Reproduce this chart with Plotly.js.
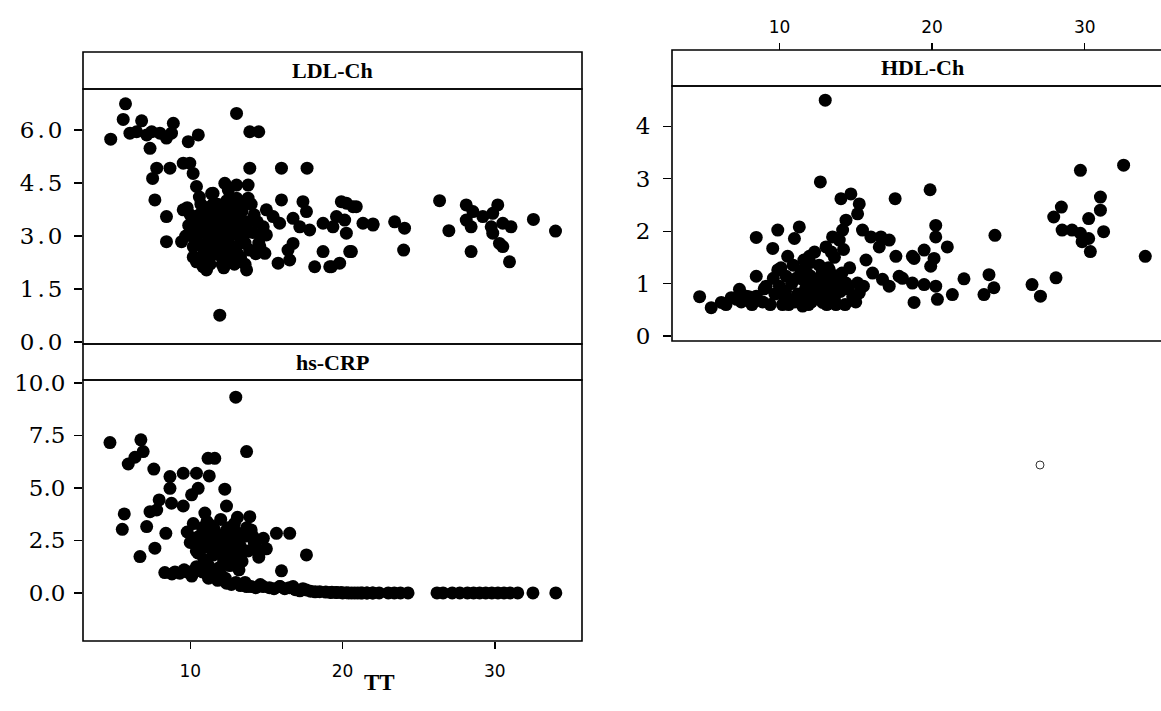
<!DOCTYPE html>
<html>
<head>
<meta charset="utf-8">
<script src="https://cdn.plot.ly/plotly-3.0.1.min.js"></script>
<style>
  html, body { margin: 0; padding: 0; overflow: hidden; background: #fff; }
  #chart { width: 1180px; height: 711px; }
  #chart g.ytick text { letter-spacing: 3px !important; }
  #chart g.xtick text { letter-spacing: 1px !important; }
</style>
</head>
<body>
<div id="chart"></div>
<script>
// ---------------- data ----------------
const panelNames = ["LDL-Ch", "hs-CRP", "HDL-Ch"];
const xTitle = "TT";
const xTickVals = [10, 20, 30];
const ldlTickVals = [0, 1.5, 3, 4.5, 6];
const ldlTickText = ["0.0", "1.5", "3.0", "4.5", "6.0"];
const crpTickVals = [0, 2.5, 5, 7.5, 10];
const crpTickText = ["0.0", "2.5", "5.0", "7.5", "10.0"];
const hdlTickVals = [0, 1, 2, 3, 4];
const hdlTickText = ["0", "1", "2", "3", "4"];

const ldlX = [5.75,5.60,4.78,6.81,6.04,6.48,7.14,7.47,8.01,8.44,8.89,8.77,7.36,9.87,10.53,13.04,13.91,14.50,
  7.80,7.53,8.67,9.54,9.97,10.19,10.41,13.91,15.99,17.67,7.68,8.44,8.44,9.54,9.43,12.27,13.04,13.80,11.50,13.04,
  13.80,15.99,17.40,17.63,19.92,20.25,20.90,19.60,20.14,21.34,22.00,16.75,17.19,17.84,18.72,19.37,20.25,15.00,
  15.44,15.87,14.79,15.00,16.75,16.42,16.53,15.77,14.90,14.57,18.72,18.17,19.16,19.81,20.58,10.41,11.07,10.84,
  13.70,13.04,11.94,11.94,20.69,22.00,23.42,24.07,24.01,20.47,19.27,26.37,26.98,28.12,28.56,28.12,28.44,29.21,
  29.86,30.19,29.76,29.86,30.52,31.06,28.44,30.30,30.52,30.96,32.53,33.98,
  10.1,10.3,10.5,10.6,10.8,10.9,11.0,11.1,11.2,11.3,11.4,11.5,11.6,11.7,11.8,11.9,12.0,12.0,12.1,12.2,12.3,12.4,
  12.5,12.5,12.6,12.7,12.8,12.9,13.0,13.1,13.2,13.3,13.4,13.5,13.6,13.8,13.9,14.0,14.1,14.3,14.4,14.6,10.2,10.7,
  11.3,12.2,12.9,13.6,11.6,12.6,13.3,10.4,9.9,9.7,12.8,11.0,
  10.0,10.2,10.5,10.7,10.9,11.1,11.2,11.4,11.5,11.7,11.8,12.0,12.1,12.3,12.4,12.6,12.7,12.9,13.1,13.2,13.4,13.5,
  13.7,14.2,14.5,11.4,12.5,10.6,9.8,12.1];
const ldlY = [6.74,6.30,5.74,6.26,5.91,5.95,5.86,5.95,5.91,5.77,6.19,5.91,5.48,5.67,5.86,6.47,5.95,5.95,
  4.92,4.63,4.92,5.06,5.06,4.77,4.40,4.92,4.92,4.92,4.02,3.55,2.84,3.74,2.84,4.49,4.44,4.44,4.21,4.07,
  4.07,4.02,3.97,3.69,3.97,3.93,3.83,3.55,3.45,3.36,3.34,3.50,3.26,3.17,3.36,3.26,3.08,3.74,
  3.55,3.36,3.26,3.03,2.79,2.60,2.32,2.23,2.51,2.70,2.56,2.13,2.13,2.23,2.56,2.27,2.04,2.13,
  2.04,2.27,2.46,0.76,3.83,3.31,3.40,3.22,2.60,2.56,2.13,4.00,3.15,3.88,3.69,3.45,3.26,3.55,
  3.64,3.88,3.26,3.08,3.36,3.26,2.56,2.79,2.70,2.27,3.47,3.14,
  3.0,3.3,2.8,3.6,3.1,2.6,3.4,3.8,2.9,2.4,3.2,3.6,2.7,3.0,3.9,3.4,2.5,3.1,3.7,2.8,3.3,4.0,
  2.6,3.5,3.0,2.3,3.8,3.2,2.7,3.5,3.0,2.4,3.7,3.2,2.8,3.4,2.6,3.9,3.1,2.5,3.4,3.0,2.4,3.9,
  2.2,2.1,2.2,2.2,3.5,3.6,3.3,3.5,3.3,3.0,2.5,2.5,
  3.6,2.7,3.1,2.4,3.7,2.3,3.5,2.8,3.9,2.5,3.3,3.6,2.4,2.9,3.6,2.7,3.3,3.9,2.5,3.6,2.9,3.9,
  3.1,3.6,2.8,4.2,4.3,4.1,3.8,2.2];

const crpX = [12.99,4.73,6.76,6.91,6.37,5.93,7.61,13.70,11.17,11.61,8.67,9.54,10.41,11.25,8.67,10.09,10.52,12.27,
  7.96,8.77,9.54,7.36,7.80,12.38,5.67,5.54,7.14,8.40,10.96,6.70,7.68,13.91,15.66,16.53,17.63,15.99,
  9.8,10.0,10.2,10.4,10.6,10.8,11.0,11.1,11.3,11.5,11.6,11.8,12.0,12.1,12.2,12.4,12.5,12.7,12.8,13.0,13.1,13.3,
  13.4,13.6,13.8,14.0,14.2,14.5,14.8,15.0,12.6,11.9,13.2,10.9,
  8.33,9.32,10.41,11.50,12.38,13.70,14.79,15.87,16.75,17.63,18.50,20.25,21.96,
  8.8,9.0,9.8,10.1,10.8,11.2,11.8,12.0,12.7,13.0,13.3,14.0,14.3,15.2,15.5,16.2,16.9,17.2,17.9,18.2,18.9,19.3,
  19.6,19.9,20.6,21.0,21.3,21.6,
  19.2,19.6,20.0,20.4,20.8,21.2,21.6,22.0,22.4,23.0,23.4,23.8,24.3,26.2,26.6,27.2,27.7,28.2,28.6,29.0,29.4,
  29.8,30.2,30.6,31.0,31.5,32.5,34.0,
  10.3,10.7,11.0,11.4,11.7,12.0,12.3,12.4,12.7,13.0,13.2,13.5,13.7,14.1,14.4,11.2,12.2,12.9,11.4,10.5,
  9.6,10.3,11.0,11.6,12.3,13.6,14.6,15.9,16.5,17.4];
const crpY = [9.32,7.16,7.29,6.73,6.46,6.14,5.90,6.73,6.41,6.41,5.54,5.70,5.70,5.57,4.98,4.67,4.98,4.94,
  4.43,4.27,4.14,3.87,3.95,4.14,3.76,3.03,3.16,2.84,3.80,1.73,2.13,3.63,2.84,2.84,1.81,1.05,
  2.9,2.4,3.3,2.0,2.7,3.1,2.2,3.4,2.6,1.8,3.0,2.3,3.5,2.7,1.6,2.1,3.1,2.5,1.9,2.9,3.6,2.2,
  1.5,2.7,2.0,3.0,2.4,1.7,2.6,2.1,1.3,1.2,1.1,1.6,
  0.97,0.94,1.25,0.94,0.46,0.30,0.30,0.30,0.30,0.14,0.06,0.01,0.00,
  0.9,1.0,1.0,0.8,1.0,0.7,0.6,0.9,0.4,0.5,0.35,0.3,0.25,0.25,0.2,0.2,0.15,0.1,0.08,0.05,0.04,0.03,
  0.02,0.02,0,0,0,0,
  0.02,0.02,0,0,0,0,0,0,0,0,0,0,0,0,0,0,0,0,0,0,0,
  0,0,0,0,0,0,0,
  2.6,2.3,2.9,2.1,2.7,2.0,2.5,3.0,2.2,1.6,2.5,2.0,3.1,2.7,2.1,1.3,1.5,3.3,3.2,1.9,
  1.1,1.1,1.0,0.9,0.7,0.5,0.4,0.3,0.25,0.2];

const hdlX = [13.0,12.68,14.03,14.68,15.23,15.12,14.36,14.14,13.48,13.05,13.92,15.44,15.99,16.65,16.54,17.58,
  8.48,9.89,11.3,10.98,9.56,10.54,11.96,4.77,5.53,6.19,6.84,7.38,7.82,8.48,8.48,9.13,9.89,10.0,10.65,10.44,
  11.52,12.18,12.83,13.48,12.4,13.27,14.36,15.12,15.67,16.1,16.75,17.19,17.84,17.63,17.19,18.71,18.82,15.23,11.52,
  19.87,20.24,20.24,21.0,19.48,18.82,20.13,19.91,18.06,18.71,19.48,20.24,20.35,21.33,22.09,24.12,23.73,24.05,
  23.4,26.55,27.1,28.12,29.72,32.55,28.47,27.97,28.52,29.17,29.72,29.83,30.26,30.37,30.26,31.03,31.03,31.24,33.97,
  9.4,9.7,10.2,10.4,10.8,11.0,11.2,11.4,11.7,11.9,12.0,12.2,12.5,12.6,12.9,13.1,13.3,13.6,13.8,14.0,14.3,14.6,
  14.8,11.6,12.3,13.6,8.9,8.2,7.5,10.9,12.8,13.9,
  9.6,10.1,10.6,11.1,11.5,11.8,12.1,12.4,12.7,13.0,13.2,13.5,13.7,14.1,14.5,15.0,15.5,12.0,13.4,14.2,10.3,9.0,
  8.0,7.2,6.5];
const hdlY = [4.50,2.94,2.62,2.71,2.52,2.33,2.21,2.02,1.89,1.70,1.83,2.02,1.89,1.89,1.70,2.62,
  1.88,2.02,2.08,1.86,1.67,1.52,1.52,0.75,0.54,0.64,0.73,0.89,0.76,1.14,0.76,0.95,1.26,0.95,0.70,1.14,
  0.57,0.76,0.64,0.82,1.08,1.26,1.01,1.01,1.45,1.20,1.08,0.95,1.14,1.52,1.83,1.52,0.64,0.82,1.08,
  2.79,2.11,1.89,1.70,1.64,1.48,1.48,1.33,1.10,1.01,0.98,0.95,0.70,0.79,1.09,1.92,1.17,0.92,
  0.79,0.98,0.76,1.11,3.16,3.26,2.46,2.27,2.02,2.02,1.96,1.80,1.86,1.61,2.24,2.65,2.40,1.99,1.52,
  0.6,0.8,0.6,0.85,1.0,0.65,0.8,1.25,0.9,0.6,1.15,1.0,0.8,1.35,0.95,0.6,1.05,0.7,1.15,0.85,0.6,1.3,
  0.75,1.45,1.6,1.5,0.65,0.6,0.65,1.35,1.2,1.0,
  1.1,1.3,0.6,1.1,0.7,1.2,0.65,0.9,1.05,0.75,1.3,1.0,0.6,1.2,0.9,0.65,0.95,1.4,1.6,1.65,0.75,0.9,
  0.75,0.7,0.6];

// ---------------- layout geometry (pixels) ----------------
const W = 1180, H = 711;
const fx = p => p / W;
const fy = p => 1 - p / H;
const L = {x0: 83, x1: 582};          // left column
const R = {x0: 672, x1: 1172};        // right column
const ldl = {s0: 52, s1: 89, p1: 344};
const crp = {s0: 344, s1: 380, p1: 641};
const hdl = {s0: 50, s1: 86, p1: 341};
const xRange = [2.96, 35.72];

const marker = {size: 13, color: "#000", line: {width: 0}};
const traces = [
  {type: "scatter", mode: "markers", x: ldlX, y: ldlY, xaxis: "x", yaxis: "y", marker: marker, hoverinfo: "x+y"},
  {type: "scatter", mode: "markers", x: crpX, y: crpY, xaxis: "x2", yaxis: "y2", marker: marker, hoverinfo: "x+y"},
  {type: "scatter", mode: "markers", x: hdlX, y: hdlY, xaxis: "x3", yaxis: "y3", marker: marker, hoverinfo: "x+y"}
];

const serifTick = {family: "DejaVu Serif", size: 23, color: "#000"};
const sansTick = {family: "DejaVu Sans", size: 17, color: "#000"};
const baseAx = {showgrid: false, zeroline: false, showline: false, fixedrange: true};

const layout = {
  width: W, height: H,
  margin: {l: 0, r: 0, t: 0, b: 0},
  paper_bgcolor: "#fff", plot_bgcolor: "#fff",
  showlegend: false,
  xaxis: Object.assign({}, baseAx, {domain: [fx(L.x0), fx(L.x1)], range: xRange, anchor: "y",
    showticklabels: false, ticks: ""}),
  yaxis: Object.assign({}, baseAx, {domain: [fy(ldl.p1), fy(ldl.s1)], range: [-0.057, 7.16], anchor: "x",
    tickmode: "array", tickvals: ldlTickVals, ticktext: ldlTickText, ticks: "outside", ticklen: 8,
    tickwidth: 1.3, tickcolor: "#000", tickfont: serifTick, ticklabelstandoff: 4}),
  xaxis2: Object.assign({}, baseAx, {domain: [fx(L.x0), fx(L.x1)], range: xRange, anchor: "y2",
    tickmode: "array", tickvals: xTickVals, ticks: "outside", ticklen: 7, tickwidth: 1.3,
    tickcolor: "#000", tickfont: sansTick, ticklabelstandoff: 8}),
  yaxis2: Object.assign({}, baseAx, {domain: [fy(crp.p1), fy(crp.s1)], range: [-2.29, 10.14], anchor: "x2",
    tickmode: "array", tickvals: crpTickVals, ticktext: crpTickText, ticks: "outside", ticklen: 8,
    tickwidth: 1.3, tickcolor: "#000", tickfont: serifTick, ticklabelstandoff: 4}),
  xaxis3: Object.assign({}, baseAx, {domain: [fx(R.x0), fx(R.x1)], range: xRange, anchor: "free",
    position: fy(hdl.s0), side: "top", tickmode: "array", tickvals: xTickVals, ticks: "outside",
    ticklen: 7, tickwidth: 1.3, tickcolor: "#000", tickfont: sansTick, ticklabelstandoff: 3}),
  yaxis3: Object.assign({}, baseAx, {domain: [fy(hdl.p1), fy(hdl.s1)], range: [-0.096, 4.77], anchor: "x3",
    tickmode: "array", tickvals: hdlTickVals, ticktext: hdlTickText, ticks: "outside", ticklen: 8,
    tickwidth: 1.3, tickcolor: "#000", tickfont: serifTick, ticklabelstandoff: 8}),
  shapes: [],
  annotations: []
};

function box(x0, x1, y0, y1) {
  return {type: "rect", xref: "paper", yref: "paper", x0: fx(x0), x1: fx(x1), y0: fy(y1), y1: fy(y0),
    line: {color: "#000", width: 1.6}, fillcolor: "rgba(0,0,0,0)", layer: "above"};
}
// strips and panel borders
layout.shapes.push(box(L.x0, L.x1, ldl.s0, ldl.s1));
layout.shapes.push(box(L.x0, L.x1, ldl.s1, ldl.p1));
layout.shapes.push(box(L.x0, L.x1, crp.s0, crp.s1));
layout.shapes.push(box(L.x0, L.x1, crp.s1, crp.p1));
layout.shapes.push(box(R.x0, R.x1, hdl.s0, hdl.s1));
layout.shapes.push(box(R.x0, R.x1, hdl.s1, hdl.p1));
// small scan speck (open circle)
layout.shapes.push({type: "circle", xref: "paper", yref: "paper",
  x0: fx(1036), x1: fx(1044), y0: fy(469), y1: fy(461), line: {color: "#333", width: 1}});

const stripFont = {family: "Liberation Serif", size: 22, color: "#000"};
function stripLabel(text, x0, x1, s0, s1) {
  return {text: "<b>" + text + "</b>", xref: "paper", yref: "paper", x: fx((x0 + x1) / 2),
    y: fy((s0 + s1) / 2), xanchor: "center", yanchor: "middle", showarrow: false, font: stripFont};
}
layout.annotations.push(stripLabel(panelNames[0], L.x0, L.x1, ldl.s0, ldl.s1));
layout.annotations.push(stripLabel(panelNames[1], L.x0, L.x1, crp.s0, crp.s1));
layout.annotations.push(stripLabel(panelNames[2], R.x0, R.x1, hdl.s0, hdl.s1));
layout.annotations.push({text: "<b>" + xTitle + "</b>", xref: "paper", yref: "paper", x: fx(379), y: fy(682),
  xanchor: "center", yanchor: "middle", showarrow: false,
  font: {family: "Liberation Serif", size: 23, color: "#000"}});

Plotly.newPlot("chart", traces, layout, {displayModeBar: false, staticPlot: true});
</script>
</body>
</html>
